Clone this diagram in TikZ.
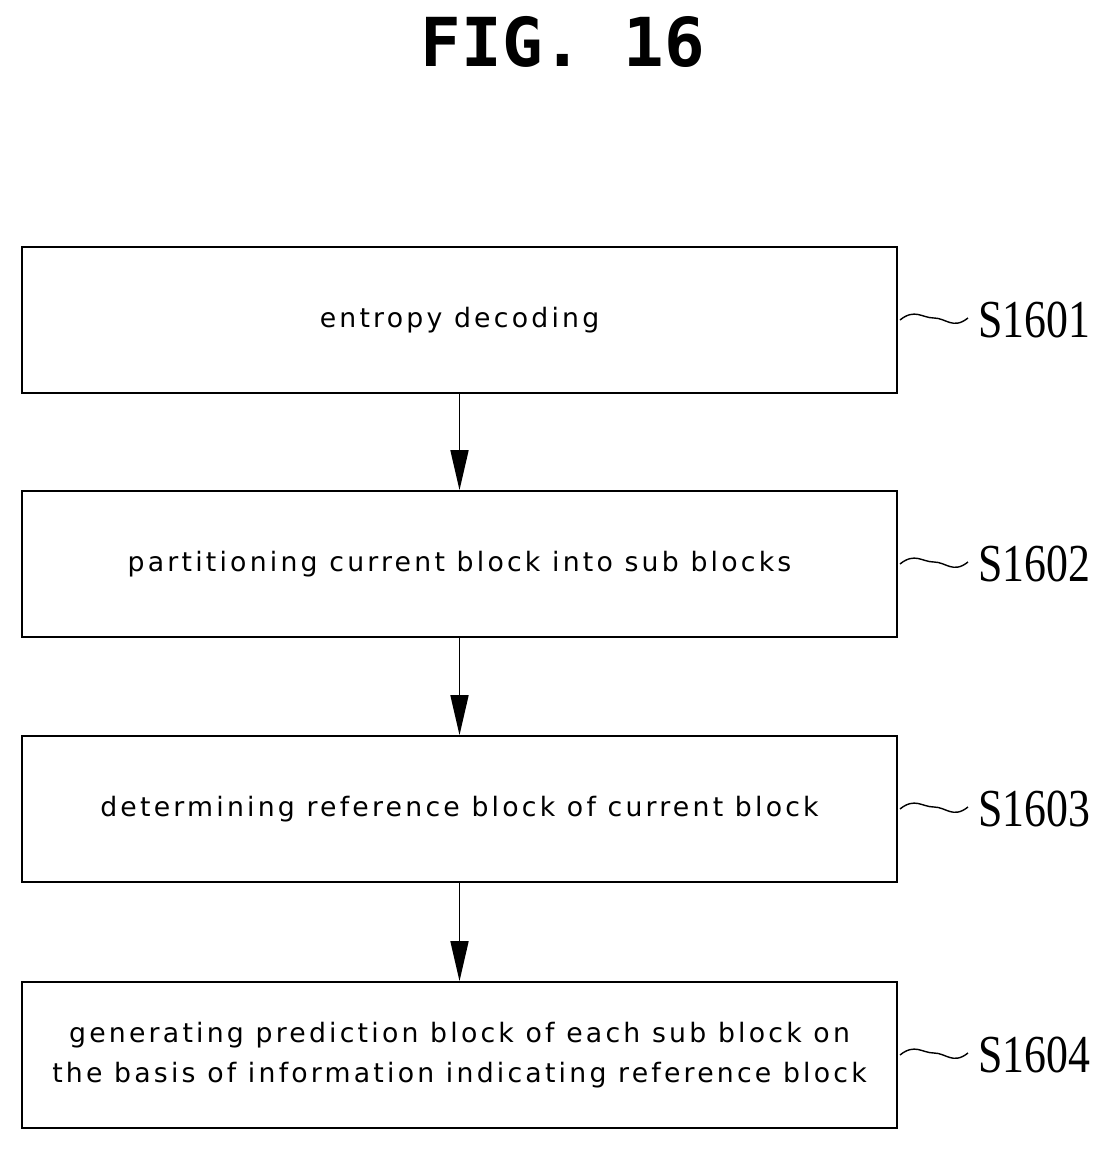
\documentclass[tikz,border=0pt]{standalone}
\usepackage{fontspec}
\setsansfont{DejaVu Sans}
\setmainfont{Liberation Serif}
\setmonofont{DejaVu Sans Mono}
\usetikzlibrary{arrows.meta}
\begin{document}
\begin{tikzpicture}[x=0.025cm,y=-0.025cm]
\tikzstyle{stage}=[draw,line width=1.2pt,minimum width=21.875cm,minimum height=3.65cm,
	align=center,font=\sffamily\fontsize{19}{28}\selectfont\addfontfeature{LetterSpace=12}]
\tikzstyle{tag}=[anchor=west,inner sep=0pt,font=\fontsize{38}{38}\selectfont\addfontfeature{FakeStretch=0.82}]
\tikzstyle{flow}=[line width=1.2pt,-{Triangle[length=1cm,width=0.45cm]}]
\useasboundingbox (0,0) rectangle (1117,1150);
\node[font=\ttfamily\bfseries\fontsize{48}{48}\selectfont] (title) at (563,42) {FIG. 16};
\node[stage] (s1601) at (459.5,320) {entropy decoding};
\node[stage] (s1602) at (459.5,564) {partitioning current block into sub blocks};
\node[stage] (s1603) at (459.5,809) {determining reference block of current block};
\node[stage] (s1604) at (459.5,1055) {generating prediction block of each sub block on\\the basis of information indicating reference block};
\draw[flow] (s1601) -- (s1602);
\draw[flow] (s1602) -- (s1603);
\draw[flow] (s1603) -- (s1604);
\foreach \n/\y in {1601/320,1602/564,1603/809,1604/1055}{
	\draw[line width=1pt] (s\n.east) ++(2,0) coordinate (a\n)
		.. controls +(15,-12) and +(-12,0) .. +(34,-2)
		.. controls +(12,0) and +(-15,12) .. +(68,-2) coordinate (b\n);
	\node[tag] (l\n) at (978,\y) {S\n};
}
\end{tikzpicture}
\end{document}
